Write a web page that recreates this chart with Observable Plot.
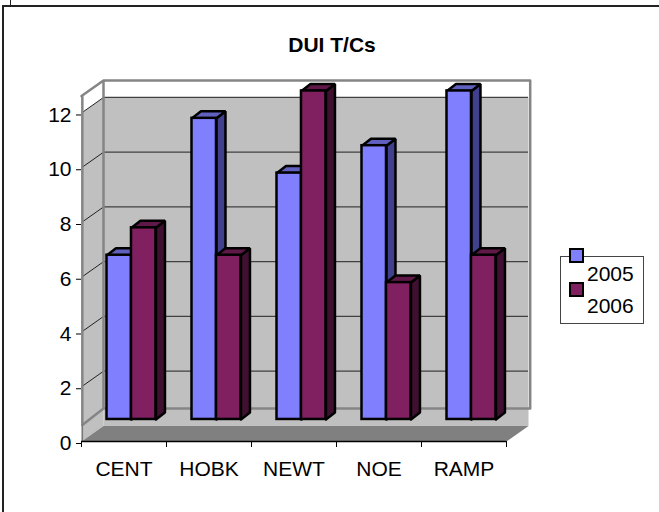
<!DOCTYPE html>
<html>
<head>
<meta charset="utf-8">
<script src="https://cdn.jsdelivr.net/npm/d3@7"></script>
<script src="https://cdn.jsdelivr.net/npm/@observablehq/plot@0.6"></script>
<style>
html,body{margin:0;padding:0;background:#fff;}
#wrap{position:relative;width:659px;height:512px;overflow:hidden;font-family:"Liberation Sans",Arial,sans-serif;color:#000;}
#wrap svg{display:block;position:absolute;left:0;top:0;}
.ln{position:absolute;background:#222;}
#title{position:absolute;left:232px;width:200px;top:33px;text-align:center;font-weight:bold;font-size:21px;line-height:24px;}
#legend{position:absolute;left:560px;top:256px;width:82px;height:66px;border:1px solid #444;background:#fff;}
.sw{position:absolute;width:11px;height:11px;border:2px solid #000;left:569px;}
.lt{position:absolute;left:587px;font-size:21px;line-height:24px;}
</style>
</head>
<body>
<div id="wrap"></div>
<script>
const categories = ["CENT", "HOBK", "NEWT", "NOE", "RAMP"];
const series = ["2005", "2006"];
const values2005 = [6, 11, 9, 10, 12];
const values2006 = [7, 6, 12, 5, 6];
const yTicks = [0, 2, 4, 6, 8, 10, 12];

const colors2005 = {front: "#8080FF", side: "#40408C", top: "#6060BF"};
const colors2006 = {front: "#802060", side: "#401030", top: "#601848"};

// oblique projection constants, in scale units
const wallDx = 22 / 85, wallDy = 15.5 / 27.33;
const barDx = 9 / 85, barDy = 7 / 27.33;
const barBase = 22 / 27.33, barLeft = 0.30, barWidth = 0.288;
const wallTop = 12.62;
const seamY = 33 / 27.33;
const n = categories.length;

const poly = (list) => list.flatMap((pts, id) => pts.concat([pts[0]]).map(([x, y]) => ({id, x, y})));
const polyMark = (list, fill, stroke, strokeWidth) =>
  Plot.line(poly(list), {x: "x", y: "y", z: "id", fill, stroke, strokeWidth, strokeLinejoin: "miter"});

function barMarks(vals, offset, c) {
  const bars = vals.map((v, i) => ({l: i + barLeft + offset * barWidth, v}));
  const r = (b) => b.l + barWidth, t = (b) => barBase + b.v;
  return [
    polyMark(bars.map(b => [[r(b), barBase], [r(b) + barDx, barBase + barDy], [r(b) + barDx, t(b) + barDy], [r(b), t(b)]]), c.side, "#000", 2.5),
    polyMark(bars.map(b => [[b.l, t(b)], [r(b), t(b)], [r(b) + barDx, t(b) + barDy], [b.l + barDx, t(b) + barDy]]), c.top, "#000", 2.5),
    Plot.rect(bars, {x1: "l", x2: r, y1: barBase, y2: t, fill: c.front, stroke: "#000", strokeWidth: 2.5})
  ];
}

const chart = Plot.plot({
  width: 659, height: 512,
  marginLeft: 81, marginRight: 153, marginTop: 80, marginBottom: 71,
  style: {background: "transparent", fontFamily: "'Liberation Sans',Arial,sans-serif", color: "#000"},
  x: {type: "linear", domain: [0, n], axis: null},
  y: {type: "linear", domain: [0, wallTop + wallDy], axis: null},
  marks: [
    // grey walls
    polyMark([[[wallDx, wallDy], [n + wallDx, wallDy], [n + wallDx, 12 + wallDy], [wallDx, 12 + wallDy]]], "#C0C0C0", "none", 0),
    polyMark([[[0, 0], [wallDx, wallDy], [wallDx, 12 + wallDy], [0, 12]]], "#C0C0C0", "none", 0),
    // gridlines on both walls
    Plot.ruleY(yTicks.slice(1), {x1: wallDx, x2: n + wallDx, y: d => d + wallDy, stroke: "#404040", strokeWidth: 1.2}),
    Plot.link(yTicks.slice(1), {x1: 0, x2: wallDx, y1: d => d, y2: d => d + wallDy, stroke: "#222", strokeWidth: 1}),
    // wall frame
    Plot.line([[0, wallTop], [wallDx, wallTop + wallDy], [n + wallDx + 0.02, wallTop + wallDy], [n + wallDx + 0.02, seamY], [wallDx, seamY], [0.01, 0.6], [0.01, wallTop]],
      {x: d => d[0], y: d => d[1], stroke: "#858585", strokeWidth: 2.5}),
    Plot.ruleX([wallDx], {y1: seamY, y2: wallTop + wallDy, stroke: "#858585", strokeWidth: 2.5}),
    Plot.ruleX([0.01], {y1: 0, y2: 0.6, stroke: "#777", strokeWidth: 1.5}),
    // floor
    polyMark([[[0, 0], [n, 0], [n + wallDx, wallDy], [wallDx, wallDy]]], "#808080", "none", 0),
    Plot.ruleY([0], {x1: 0, x2: n, stroke: "#000", strokeWidth: 1.5}),
    // axes
    Plot.axisY({ticks: yTicks, tickFormat: d3.format("d"), tickSize: 5, tickPadding: 5, fontSize: 21, dy: 2, label: null}),
    Plot.axisX({ticks: d3.range(n + 1), tickFormat: () => "", tickSize: 6, label: null}),
    Plot.axisX({ticks: categories.map((_, i) => i + 0.5), tickFormat: (d) => categories[d - 0.5], tickSize: 0, tickPadding: 20, fontSize: 21, label: null}),
    // bars
    ...barMarks(values2005, 0, colors2005),
    ...barMarks(values2006, 1, colors2006)
  ]
});

const wrap = document.getElementById("wrap");
wrap.appendChild(chart);
function add(cls, css, text, id) {
  const e = document.createElement("div");
  if (cls) e.className = cls;
  if (id) e.id = id;
  e.style.cssText = css;
  if (text) e.textContent = text;
  wrap.appendChild(e);
}
add("ln", "left:2px;top:5px;width:2px;height:507px");
add("ln", "left:2px;top:5px;width:657px;height:2px");
add("ln", "left:10px;top:0;width:1px;height:5px");
add("", "", "DUI T/Cs", "title");
add("", "", "", "legend");
add("sw", "top:248px;background:" + colors2005.front);
add("sw", "top:282px;background:" + colors2006.front);
add("lt", "top:262px", series[0]);
add("lt", "top:294px", series[1]);
</script>
</body>
</html>
